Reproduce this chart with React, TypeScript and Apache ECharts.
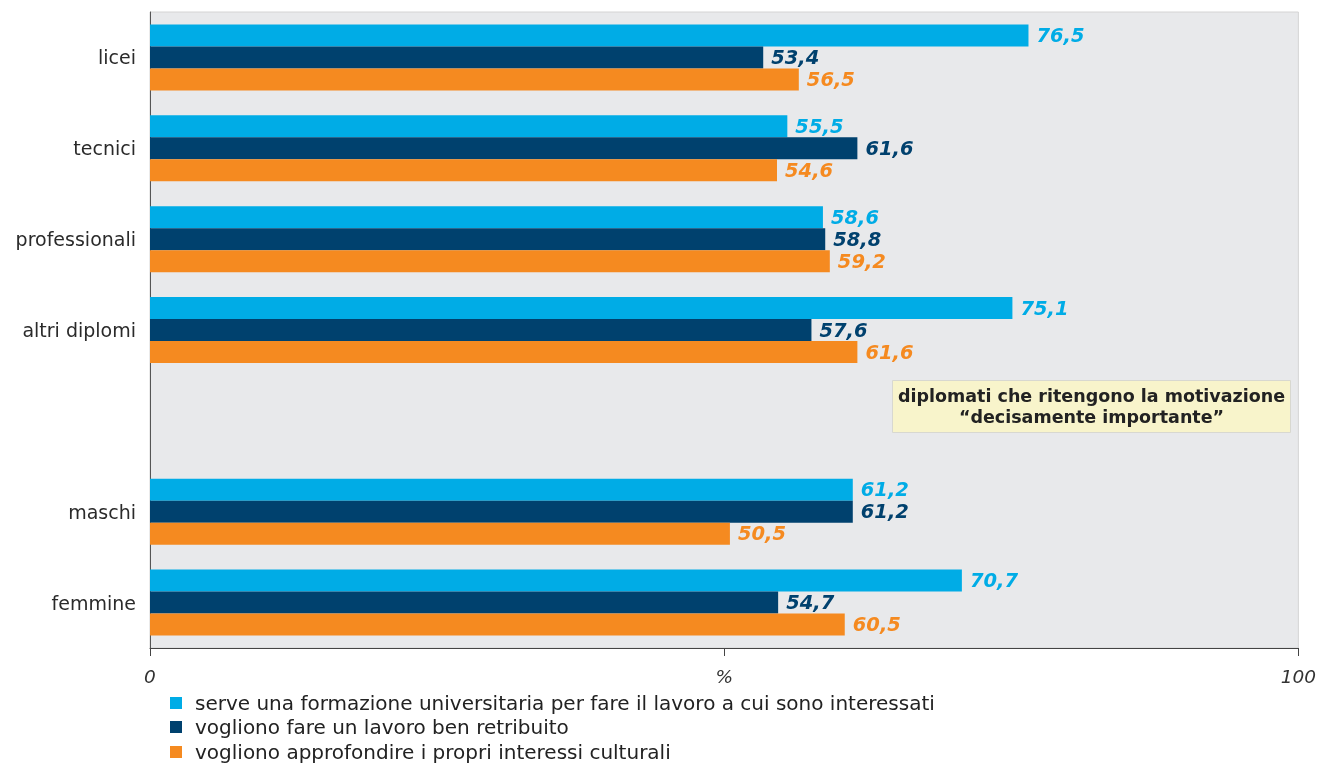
import React, { useEffect, useRef } from "react";
import * as echarts from "echarts";

const categories = ["licei", "tecnici", "professionali", "altri diplomi", "", "maschi", "femmine"];
const seriesNames = [
  "serve una formazione universitaria per fare il lavoro a cui sono interessati",
  "vogliono fare un lavoro ben retribuito",
  "vogliono approfondire i propri interessi culturali",
];
const formazione = [76.5, 55.5, 58.6, 75.1, null, 61.2, 70.7];
const retribuito = [53.4, 61.6, 58.8, 57.6, null, 61.2, 54.7];
const culturali = [56.5, 54.6, 59.2, 61.6, null, 50.5, 60.5];
const colors = ["#00ace6", "#00416e", "#f58a20"];
const xTickLabels: Record<number, string> = { 0: "0", 50: "%", 100: "100" };

export default function App() {
  const ref = useRef<HTMLDivElement>(null);
  useEffect(() => {
    if (!ref.current) return;
    const chart = echarts.init(ref.current, null, { renderer: "svg" });
    const font = "DejaVu Sans";
    const data = [formazione, retribuito, culturali];
    const legendTops = [693, 717, 742];
    chart.setOption({
      animation: false,
      textStyle: { fontFamily: font },
      grid: { left: 150, right: 20, top: 12, bottom: 119, containLabel: false, show: true, backgroundColor: "#e8e9eb", borderColor: "#d4d4d4", borderWidth: 1 },
      legend: seriesNames.map((name, i) => ({
        orient: "vertical",
        left: 170,
        top: legendTops[i],
        padding: 0,
        itemWidth: 12,
        itemHeight: 12,
        icon: "rect",
        textStyle: { fontSize: 20, color: "#222", fontFamily: font, padding: [0, 0, 0, 8] },
        data: [name],
      })),
      xAxis: {
        type: "value",
        min: 0,
        max: 100,
        interval: 50,
        axisLine: { show: true, lineStyle: { color: "#444", width: 1 } },
        axisTick: { show: true, length: 8, lineStyle: { color: "#444" } },
        splitLine: { show: false },
        axisLabel: {
          margin: 19,
          fontSize: 18.5,
          fontStyle: "italic",
          color: "#333",
          formatter: (v: number) => xTickLabels[v] ?? "",
        },
      },
      yAxis: {
        type: "category",
        data: categories,
        inverse: true,
        axisLine: { show: true, lineStyle: { color: "#555", width: 1 } },
        axisTick: { show: false },
        axisLabel: { fontSize: 19, color: "#2a2a2a", margin: 14 },
      },
      series: seriesNames.map((name, i) => ({
        name,
        type: "bar",
        data: data[i],
        barWidth: 22,
        barGap: "0%",
        itemStyle: { color: colors[i] },
        label: {
          show: true,
          position: "right",
          distance: 8,
          fontSize: 19.5,
          fontWeight: "bold",
          fontStyle: "italic",
          color: colors[i],
          formatter: (p: any) => (p.value == null ? "" : String(p.value.toFixed(1)).replace(".", ",")),
        },
      })),
      graphic: [
        {
          type: "group",
          left: 892,
          top: 380,
          children: [
            { type: "rect", shape: { x: 0, y: 0, width: 398, height: 52 }, style: { fill: "#f8f4cb", stroke: "#d8d8d0", lineWidth: 1 } },
            {
              type: "text",
              x: 199,
              y: 26,
              style: {
                text: "diplomati che ritengono la motivazione\n“decisamente importante”",
                align: "center",
                verticalAlign: "middle",
                fontSize: 17.5,
                fontWeight: "bold",
                fontFamily: font,
                fill: "#222",
                lineHeight: 21,
              },
            },
          ],
        },
      ],
    });
    return () => chart.dispose();
  }, []);
  return <div ref={ref} style={{ position: "fixed", left: 0, top: 0, width: 1319, height: 767 }} />;
}
